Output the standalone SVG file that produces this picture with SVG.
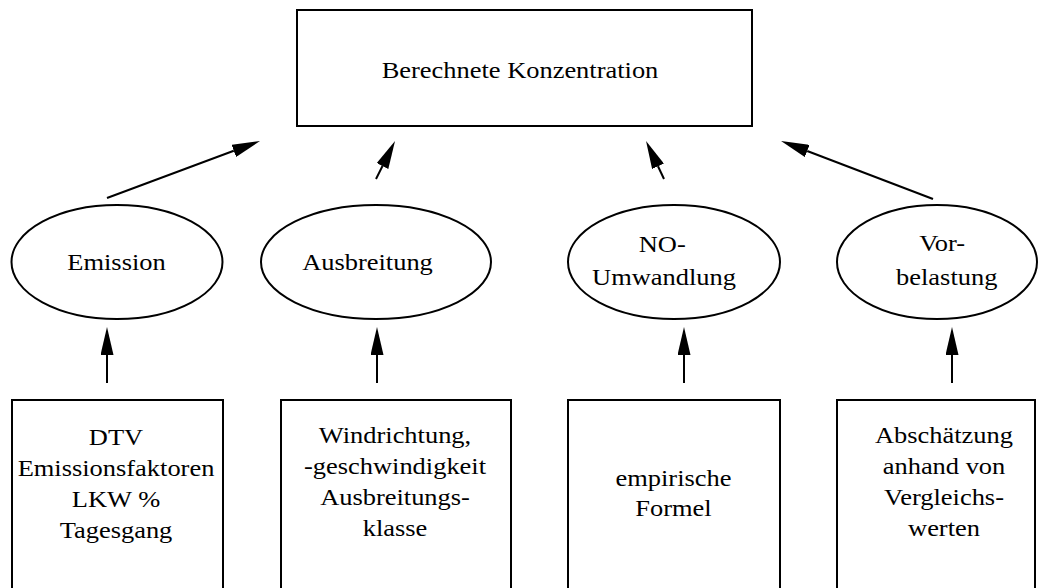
<svg xmlns="http://www.w3.org/2000/svg" width="1039" height="588" viewBox="0 0 1039 588">
<style>
.box{fill:#fff;stroke:#000;stroke-width:2}
.ell{fill:#fff;stroke:#000;stroke-width:2}
.lbl{font-family:"Liberation Serif","Times New Roman",serif;font-size:23px;fill:#000;text-anchor:middle}
.con{stroke:#000;stroke-width:2;fill:none;marker-end:url(#ah)}
</style>
<defs>
<marker id="ah" markerUnits="userSpaceOnUse" markerWidth="28" markerHeight="13" viewBox="0 0 28 13" refX="0" refY="6.5" orient="auto">
<path d="M0,0 L28,6.5 L0,13 z" fill="#000"/>
</marker>
</defs>
<rect width="1039" height="588" fill="#fff"/>
<g id="konzentration">
<rect class="box" x="297" y="10" width="455" height="116"/>
<text class="lbl" transform="translate(520 0) scale(1.15 1)"><tspan x="0" y="78">Berechnete Konzentration</tspan></text>
</g>
<g id="emission">
<ellipse class="ell" cx="117" cy="262" rx="105.5" ry="57"/>
<text class="lbl" transform="translate(116.5 0) scale(1.15 1)"><tspan x="0" y="270">Emission</tspan></text>
</g>
<g id="ausbreitung">
<ellipse class="ell" cx="376" cy="262" rx="115" ry="57"/>
<text class="lbl" transform="translate(367.5 0) scale(1.15 1)"><tspan x="0" y="270">Ausbreitung</tspan></text>
</g>
<g id="no-umwandlung">
<ellipse class="ell" cx="674" cy="262" rx="106" ry="57"/>
<text class="lbl" transform="translate(664 0) scale(1.15 1)"><tspan x="-1.5" y="252">NO-</tspan><tspan x="0" y="285">Umwandlung</tspan></text>
</g>
<g id="vorbelastung">
<ellipse class="ell" cx="937" cy="262" rx="100" ry="57"/>
<text class="lbl" transform="translate(945 0) scale(1.15 1)"><tspan x="-2.5" y="251">Vor-</tspan><tspan x="1.5" y="285">belastung</tspan></text>
</g>
<g id="emission-daten">
<rect class="box" x="12" y="400" width="211" height="210"/>
<text class="lbl" transform="translate(116 0) scale(1.15 1)"><tspan x="0" y="445">DTV</tspan><tspan x="0" y="476">Emissionsfaktoren</tspan><tspan x="0" y="507">LKW %</tspan><tspan x="0" y="538">Tagesgang</tspan></text>
</g>
<g id="ausbreitung-daten">
<rect class="box" x="281" y="400" width="230" height="210"/>
<text class="lbl" transform="translate(395 0) scale(1.15 1)"><tspan x="0" y="443">Windrichtung,</tspan><tspan x="0" y="474">-geschwindigkeit</tspan><tspan x="0" y="505">Ausbreitungs-</tspan><tspan x="0" y="536">klasse</tspan></text>
</g>
<g id="umwandlung-daten">
<rect class="box" x="568" y="400" width="212" height="210"/>
<text class="lbl" transform="translate(673.5 0) scale(1.15 1)"><tspan x="0" y="486">empirische</tspan><tspan x="0" y="516">Formel</tspan></text>
</g>
<g id="vorbelastung-daten">
<rect class="box" x="837" y="400" width="198" height="210"/>
<text class="lbl" transform="translate(944 0) scale(1.15 1)"><tspan x="0" y="443">Abschätzung</tspan><tspan x="0" y="474">anhand von</tspan><tspan x="0" y="505">Vergleichs-</tspan><tspan x="0" y="536">werten</tspan></text>
</g>
<g id="connectors">
<line class="con" x1="107" y1="198" x2="233.8" y2="150.8"/>
<line class="con" x1="376" y1="179" x2="382.5" y2="166"/>
<line class="con" x1="664" y1="179" x2="658" y2="166.3"/>
<line class="con" x1="933" y1="199" x2="807.2" y2="151"/>
<line class="con" x1="107" y1="383" x2="107" y2="355"/>
<line class="con" x1="377" y1="383" x2="377" y2="355"/>
<line class="con" x1="684" y1="383" x2="684" y2="355"/>
<line class="con" x1="952" y1="383" x2="952" y2="355"/>
</g>
</svg>
